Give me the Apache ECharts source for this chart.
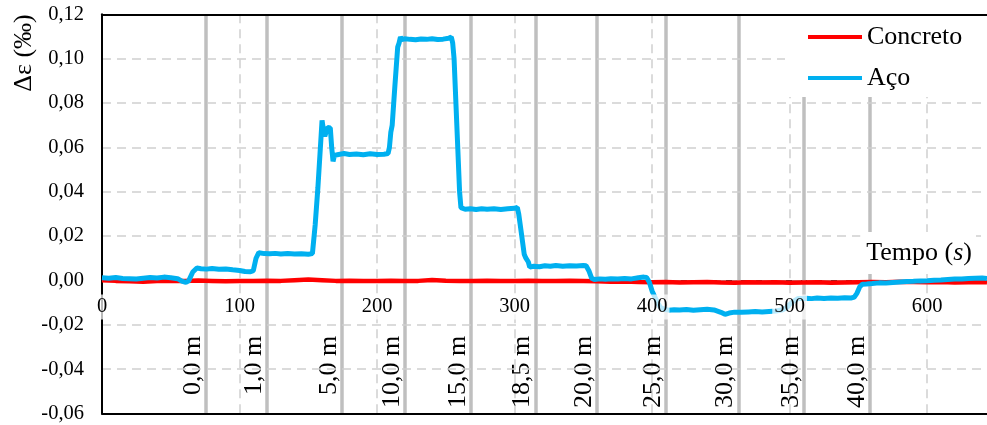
<!DOCTYPE html>
<html>
<head>
<meta charset="utf-8">
<script src="https://cdn.jsdelivr.net/npm/echarts@6/dist/echarts.min.js"></script>
<style>
  html, body { margin: 0; padding: 0; background: #fff; }
  #chart { width: 987px; height: 425px; }
</style>
</head>
<body>
<div id="chart"></div>
<script>
// Strain readings over time (s) — steel bar
const steelTime = [0,5,10,15,20,25,30,35,40,45,50,55,58,61,63,66,69,72,76,80,85,90,95,100,104,108,110,112,114,118,122,126,130,135,140,145,150,153,155,157,159,160,161,162,164,166,167,168,169,172,176,180,185,190,195,200,205,208,209,210,211,213,215,216,217,218,220,224,228,232,236,240,244,248,252,254,255,256,258,260,261,264,268,272,276,280,285,290,295,300,302,303,305,307,308,310,311,314,318,322,326,330,335,340,345,350,352,354,356,358,362,366,370,375,380,385,390,394,396,398,400,403,406,409,412,416,420,425,430,435,440,445,450,453,456,460,465,470,475,480,485,490,495,498,500,503,506,509,512,516,520,525,530,535,540,545,547,549,551,553,556,560,565,570,575,580,585,590,595,600,605,610,615,620,625,630,635,640,643.5];
const steelStrain = [0.0012,0.0010,0.0013,0.0009,0.0008,0.0006,0.0010,0.0013,0.0011,0.0015,0.0012,0.0008,-0.0003,-0.0009,-0.0002,0.0038,0.0056,0.0053,0.0051,0.0054,0.0050,0.0052,0.0048,0.0045,0.0040,0.0039,0.0044,0.0100,0.0125,0.0121,0.0120,0.0122,0.0119,0.0121,0.0119,0.0120,0.0118,0.0121,0.0250,0.0420,0.0620,0.0722,0.0680,0.0650,0.0690,0.0688,0.0600,0.0537,0.0564,0.0568,0.0572,0.0568,0.0570,0.0567,0.0571,0.0568,0.0569,0.0572,0.0600,0.0668,0.0700,0.0880,0.1052,0.1070,0.1098,0.1085,0.1090,0.1087,0.1085,0.1089,0.1087,0.1090,0.1086,0.1088,0.1092,0.1098,0.1070,0.1000,0.0700,0.0400,0.0328,0.0321,0.0323,0.0320,0.0323,0.0321,0.0323,0.0320,0.0323,0.0325,0.0329,0.0300,0.0210,0.0118,0.0103,0.0083,0.0060,0.0064,0.0062,0.0066,0.0064,0.0067,0.0064,0.0066,0.0065,0.0067,0.0066,0.0044,0.0010,0.0004,0.0007,0.0005,0.0008,0.0006,0.0009,0.0007,0.0012,0.0015,0.0013,-0.0008,-0.0048,-0.0088,-0.0122,-0.0130,-0.0134,-0.0132,-0.0133,-0.0131,-0.0134,-0.0132,-0.0130,-0.0133,-0.0144,-0.0153,-0.0147,-0.0143,-0.0144,-0.0142,-0.0140,-0.0142,-0.0140,-0.0138,-0.0132,-0.0122,-0.0108,-0.0093,-0.0082,-0.0082,-0.0080,-0.0082,-0.0079,-0.0081,-0.0079,-0.0080,-0.0078,-0.0079,-0.0075,-0.0057,-0.0028,-0.0017,-0.0016,-0.0014,-0.0011,-0.0012,-0.0009,-0.0007,-0.0005,-0.0004,-0.0002,-0.0001,0.0001,0.0002,0.0004,0.0006,0.0007,0.0009,0.0010,0.0011,0.0009];

// Strain readings over time (s) — concrete
const concreteTime = [0,10,20,30,40,50,60,70,80,90,100,110,120,130,140,150,160,170,180,190,200,210,220,230,240,250,260,270,280,290,300,310,320,330,340,350,360,370,380,390,400,410,420,430,440,450,460,470,480,490,500,510,520,530,540,550,560,570,580,590,600,610,620,630,640,643.5];
const concreteStrain = [0.0001,-0.0002,-0.0004,-0.0006,-0.0003,-0.0001,-0.0003,0.0000,-0.0002,-0.0004,-0.0002,-0.0003,-0.0001,-0.0002,0.0001,0.0004,0.0001,-0.0002,-0.0001,-0.0003,-0.0002,-0.0001,-0.0003,-0.0002,0.0002,-0.0001,-0.0003,-0.0002,-0.0001,-0.0003,-0.0002,-0.0001,-0.0002,-0.0003,-0.0001,-0.0002,-0.0004,-0.0006,-0.0005,-0.0007,-0.0008,-0.0007,-0.0009,-0.0008,-0.0007,-0.0009,-0.0010,-0.0008,-0.0009,-0.0008,-0.0010,-0.0009,-0.0008,-0.0010,-0.0009,-0.0008,-0.0007,-0.0008,-0.0006,-0.0007,-0.0008,-0.0007,-0.0009,-0.0008,-0.0007,-0.0008];

// Load position markers (time in s) and their distances
const stationTime = [75.4, 120.0, 174.3, 220.1, 268.1, 315.3, 359.9, 409.9, 462.7, 510.4, 558.5];
const stationLabel = ['0,0 m','1,0 m','5,0 m','10,0 m','15,0 m','18,5 m','20,0 m','25,0 m','30,0 m','35,0 m','40,0 m'];

// Axis ranges
const xMin = 0, xMax = 643.5, xStep = 100;
const yMin = -0.06, yMax = 0.12, yStep = 0.02;
const stationLabelEnd = -0.025;

const serif = "'Liberation Serif', 'Times New Roman', serif";

const zip = (xs, ys) => xs.map((x, i) => [x, ys[i]]);

const stationLines = stationTime.map(t => ({ xAxis: t }));
const stationTags = stationTime.map((t, i) => [
  {
    coord: [t, yMin],
    lineStyle: { color: 'rgba(255,255,255,0)', width: 1 },
    label: {
      show: true,
      position: 'insideEndTop',
      formatter: stationLabel[i],
      distance: [0, 0],
      fontSize: 26,
      fontFamily: serif,
      color: '#000'
    }
  },
  { coord: [t, stationLabelEnd] }
]);

const frameAxis = (position) => ({
  type: 'value', min: xMin, max: xMax, interval: xStep,
  position: position, z: 3,
  axisLine: { show: true, onZero: false, lineStyle: { color: '#000', width: 2 } },
  axisTick: { show: false },
  axisLabel: { show: false },
  splitLine: { show: false }
});

const chart = echarts.init(document.getElementById('chart'), null, { renderer: 'canvas' });

chart.setOption({
  animation: false,
  backgroundColor: '#fff',
  grid: { left: 102, right: 0, top: 14.3, bottom: 11.5, show: false },
  legend: {
    data: ['Concreto', 'Aço'],
    orient: 'vertical',
    left: 785, top: 16,
    backgroundColor: '#fff',
    padding: [8, 40, 6, 23],
    itemWidth: 54, itemHeight: 4, itemGap: 15,
    icon: 'rect',
    selectedMode: false,
    textStyle: { fontFamily: serif, fontSize: 26, color: '#000' },
    z: 10
  },
  xAxis: [
    {
      type: 'value', min: xMin, max: xMax, interval: xStep,
      axisLine: { onZero: true, lineStyle: { color: '#000', width: 1.5 } },
      axisTick: { show: false },
      axisLabel: { show: false },
      splitLine: {
        show: true, showMaxLine: false,
        lineStyle: { color: '#d0d0d0', width: 1.5, type: [9, 6] }
      }
    },
    {
      type: 'value', min: xMin, max: xMax, interval: xStep,
      position: 'bottom', offset: -133, z: 6,
      axisLine: { show: false, onZero: false },
      axisTick: { show: false },
      splitLine: { show: false },
      axisLabel: {
        showMaxLabel: false,
        fontFamily: serif, fontSize: 20.5, color: '#000', margin: 14,
        backgroundColor: 'rgba(255,255,255,0.72)', padding: [2, 2, 2, 2],
        formatter: v => (v % 100 === 0 ? String(v) : '')
      }
    },
    frameAxis('top'),
    frameAxis('bottom')
  ],
  yAxis: {
    type: 'value', min: yMin, max: yMax, interval: yStep, z: 3,
    axisLine: { show: true, onZero: false, lineStyle: { color: '#000', width: 2 } },
    axisTick: { show: false },
    axisLabel: {
      fontFamily: serif, fontSize: 20.5, color: '#000', margin: 18,
      formatter: v => v.toFixed(2).replace('.', ',')
    },
    splitLine: { show: true, lineStyle: { color: '#d0d0d0', width: 1.5, type: [9, 6] } }
  },
  series: [
    {
      name: 'Concreto', type: 'line', xAxisIndex: 0,
      data: zip(concreteTime, concreteStrain),
      showSymbol: false, symbol: 'none',
      lineStyle: { color: '#ff0000', width: 4.5 },
      itemStyle: { color: '#ff0000' },
      markLine: {
        silent: true, z: 1, animation: false,
        symbol: ['none', 'none'],
        lineStyle: { color: '#bfbfbf', width: 3.5, type: 'solid' },
        label: { show: false },
        emphasis: { disabled: true },
        data: [...stationLines, ...stationTags]
      }
    },
    {
      name: 'Aço', type: 'line', xAxisIndex: 0,
      data: zip(steelTime, steelStrain),
      showSymbol: false, symbol: 'none',
      lineStyle: { color: '#00b0f0', width: 5 },
      itemStyle: { color: '#00b0f0' }
    }
  ],
  graphic: [
    {
      type: 'text', x: 24, y: 53, rotation: Math.PI / 2, z: 20,
      style: {
        text: 'Δε (‰)', fontFamily: serif, fontSize: 26, fill: '#000',
        align: 'center', verticalAlign: 'middle'
      }
    },
    {
      type: 'text', x: 976, y: 253, z: 20,
      style: {
        text: '{a|Tempo (}{i|s}{a|)}',
        rich: {
          a: { fontFamily: serif, fontSize: 26, fill: '#000' },
          i: { fontFamily: serif, fontSize: 26, fontStyle: 'italic', fill: '#000' }
        },
        align: 'right', verticalAlign: 'middle',
        backgroundColor: '#fff', padding: [8, 4, 8, 6]
      }
    }
  ]
});
</script>
</body>
</html>
